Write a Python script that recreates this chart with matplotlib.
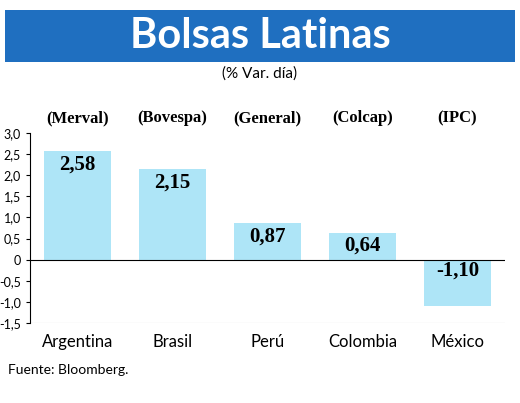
import matplotlib
matplotlib.use("Agg")
import matplotlib.pyplot as plt

countries = ["Argentina", "Brasil", "Perú", "Colombia", "México"]
indices = ["(Merval)", "(Bovespa)", "(General)", "(Colcap)", "(IPC)"]
values = [2.58, 2.15, 0.87, 0.64, -1.10]
value_labels = ["2,58", "2,15", "0,87", "0,64", "-1,10"]
yticks = [3.0, 2.5, 2.0, 1.5, 1.0, 0.5, 0, -0.5, -1.0, -1.5]
ytick_labels = ["3,0", "2,5", "2,0", "1,5", "1,0", "0,5", "0", "-0,5", "-1,0", "-1,5"]

W, H = 520, 403
fig = plt.figure(figsize=(W/100, H/100), dpi=100)
fig.patch.set_facecolor("white")

hdr = fig.add_axes([5/W, 1-62/H, 510/W, 52/H])
hdr.set_facecolor("#1f6fc0")
hdr.set_xticks([]); hdr.set_yticks([])
for s in hdr.spines.values(): s.set_visible(False)
fig.text(0.5, 1-36/H, "Bolsas Latinas", ha="center", va="center", color="white",
         fontsize=30, fontweight="bold", family="Lato")
fig.text(0.5, 1-74/H, "(% Var. día)", ha="center", va="center", fontsize=11, family="Lato")

ax = fig.add_axes([30/W, 1-323/H, 475/W, (323-133)/H])
x = range(len(values))
ax.bar(x, values, width=0.71, color="#aee5f7")
ax.set_ylim(-1.5, 3.0)
ax.set_xlim(-0.5, 4.5)
ax.set_yticks(yticks)
ax.set_yticklabels(ytick_labels, fontsize=9, family="Lato")
ax.set_xticks(list(x))
ax.set_xticklabels(countries, fontsize=12, family="Lato")
ax.tick_params(axis="x", length=0, pad=8)
ax.tick_params(axis="y", length=3, direction="out")
for s in ["top", "right", "bottom"]:
    ax.spines[s].set_visible(False)
ax.axhline(0, color="black", lw=0.8)
ax.axhline(-1.5, color="#bbbbbb", lw=0.8)
for i, (v, lab) in enumerate(zip(values, value_labels)):
    ax.text(i, v - 0.08 if v > 0 else -0.25, lab, ha="center", va="top" if v > 0 else "center",
            fontsize=15, fontweight="bold", family="Liberation Serif")
for i, lab in enumerate(indices):
    ax.text(i, 3.35, lab, ha="center", va="center", fontsize=12, fontweight="bold",
            family="Liberation Serif", clip_on=False)

fig.text(8/W, 1-370/H, "Fuente: Bloomberg.", ha="left", va="center", fontsize=10, family="Lato")
fig.savefig("out.png", dpi=100)
